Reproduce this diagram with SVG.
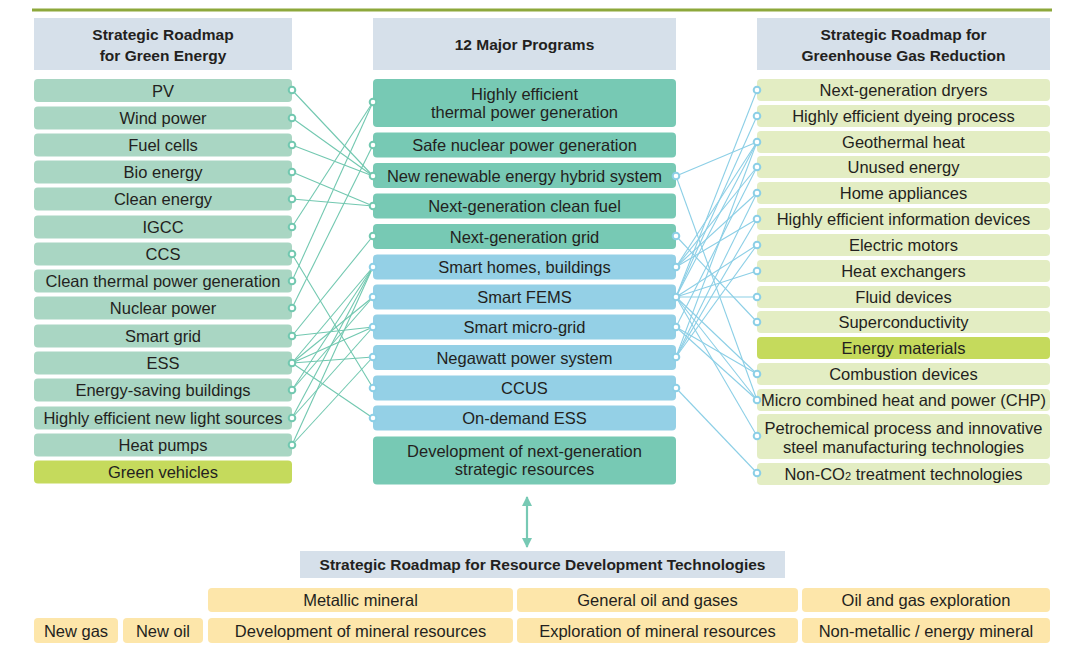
<svg xmlns="http://www.w3.org/2000/svg" width="1068" height="645" viewBox="0 0 1068 645">
<defs>
<style>
.hdr{fill:#d6e0ea}
.l{fill:#a9d6c3}
.t{fill:#77c9b4}
.b{fill:#94d0e6}
.r{fill:#e3edc3}
.y{fill:#c5da5c}
.o{fill:#fde6aa}
text{font-family:"Liberation Sans",Arial,sans-serif;font-size:16.5px;fill:#231f20;text-anchor:middle}
text.h{font-weight:bold;font-size:15.5px}
.cg line{stroke:#72c8b0;stroke-width:1.1}
.cb line{stroke:#8ccfe6;stroke-width:1.1}
.pg{fill:#fff;stroke:#72c8b0;stroke-width:2}
.pb{fill:#fff;stroke:#8ccfe6;stroke-width:2}
</style>
<marker id="ah" viewBox="0 0 10 10" refX="9" refY="5" markerWidth="4.6" markerHeight="4.6" orient="auto-start-reverse" markerUnits="strokeWidth">
<path d="M0,0 L10,5 L0,10 z" fill="#77c9b4"/>
</marker>
</defs>
<rect width="1068" height="645" fill="#fff"/>
<line x1="32" y1="10" x2="1052" y2="10" stroke="#8da83b" stroke-width="3"/>

<g id="hdr-left"><rect class="hdr" x="34" y="18" width="258" height="52"/><text class="h" x="163" y="40">Strategic Roadmap</text><text class="h" x="163" y="61">for Green Energy</text></g>
<g id="hdr-mid"><rect class="hdr" x="373" y="18" width="303" height="52"/><text class="h" x="524.5" y="50">12 Major Programs</text></g>
<g id="hdr-right"><rect class="hdr" x="757" y="18" width="293" height="52"/><text class="h" x="903.5" y="40">Strategic Roadmap for</text><text class="h" x="903.5" y="61">Greenhouse Gas Reduction</text></g>

<g id="left-pv"><rect class="l" x="34" y="79" width="258" height="23" rx="4"/><text x="163" y="96.5">PV</text></g>
<g id="left-wind"><rect class="l" x="34" y="106.5" width="258" height="23" rx="4"/><text x="163" y="124">Wind power</text></g>
<g id="left-fuel"><rect class="l" x="34" y="133.5" width="258" height="23" rx="4"/><text x="163" y="151">Fuel cells</text></g>
<g id="left-bio"><rect class="l" x="34" y="160.5" width="258" height="23" rx="4"/><text x="163" y="178">Bio energy</text></g>
<g id="left-clean"><rect class="l" x="34" y="187.5" width="258" height="23" rx="4"/><text x="163" y="205">Clean energy</text></g>
<g id="left-igcc"><rect class="l" x="34" y="215.5" width="258" height="23" rx="4"/><text x="163" y="233">IGCC</text></g>
<g id="left-ccs"><rect class="l" x="34" y="242.5" width="258" height="23" rx="4"/><text x="163" y="260">CCS</text></g>
<g id="left-cleanthermal"><rect class="l" x="34" y="269.5" width="258" height="23" rx="4"/><text x="163" y="287">Clean thermal power generation</text></g>
<g id="left-nuclear"><rect class="l" x="34" y="296.5" width="258" height="23" rx="4"/><text x="163" y="314">Nuclear power</text></g>
<g id="left-smartgrid"><rect class="l" x="34" y="324.5" width="258" height="23" rx="4"/><text x="163" y="342">Smart grid</text></g>
<g id="left-ess"><rect class="l" x="34" y="351.5" width="258" height="23" rx="4"/><text x="163" y="369">ESS</text></g>
<g id="left-esb"><rect class="l" x="34" y="378.5" width="258" height="23" rx="4"/><text x="163" y="396">Energy-saving buildings</text></g>
<g id="left-light"><rect class="l" x="34" y="406.5" width="258" height="23" rx="4"/><text x="163" y="424">Highly efficient new light sources</text></g>
<g id="left-heat"><rect class="l" x="34" y="433.5" width="258" height="23" rx="4"/><text x="163" y="451">Heat pumps</text></g>
<g id="left-vehicles"><rect class="y" x="34" y="460.5" width="258" height="23" rx="4"/><text x="163" y="478">Green vehicles</text></g>

<g id="mid-thermal"><rect class="t" x="373" y="79" width="303" height="48" rx="4"/><text x="524.5" y="99.5">Highly efficient</text><text x="524.5" y="118">thermal power generation</text></g>
<g id="mid-nuclear"><rect class="t" x="373" y="132.5" width="303" height="25" rx="4"/><text x="524.5" y="151">Safe nuclear power generation</text></g>
<g id="mid-hybrid"><rect class="t" x="373" y="163" width="303" height="25" rx="4"/><text x="524.5" y="181.5">New renewable energy hybrid system</text></g>
<g id="mid-fuel"><rect class="t" x="373" y="193.5" width="303" height="25" rx="4"/><text x="524.5" y="212">Next-generation clean fuel</text></g>
<g id="mid-grid"><rect class="t" x="373" y="224" width="303" height="25" rx="4"/><text x="524.5" y="242.5">Next-generation grid</text></g>
<g id="mid-homes"><rect class="b" x="373" y="254.5" width="303" height="25" rx="4"/><text x="524.5" y="273">Smart homes, buildings</text></g>
<g id="mid-fems"><rect class="b" x="373" y="284.5" width="303" height="25" rx="4"/><text x="524.5" y="303">Smart FEMS</text></g>
<g id="mid-micro"><rect class="b" x="373" y="314.5" width="303" height="25" rx="4"/><text x="524.5" y="333">Smart micro-grid</text></g>
<g id="mid-negawatt"><rect class="b" x="373" y="345" width="303" height="25" rx="4"/><text x="524.5" y="363.5">Negawatt power system</text></g>
<g id="mid-ccus"><rect class="b" x="373" y="375.5" width="303" height="25" rx="4"/><text x="524.5" y="394">CCUS</text></g>
<g id="mid-ess"><rect class="b" x="373" y="405.5" width="303" height="25" rx="4"/><text x="524.5" y="424">On-demand ESS</text></g>
<g id="mid-resources"><rect class="t" x="373" y="436.5" width="303" height="48" rx="4"/><text x="524.5" y="456.5">Development of next-generation</text><text x="524.5" y="475">strategic resources</text></g>

<g id="right-dryers"><rect class="r" x="757" y="79" width="293" height="22" rx="4"/><text x="903.5" y="96">Next-generation dryers</text></g>
<g id="right-dyeing"><rect class="r" x="757" y="105" width="293" height="22" rx="4"/><text x="903.5" y="122">Highly efficient dyeing process</text></g>
<g id="right-geo"><rect class="r" x="757" y="131" width="293" height="22" rx="4"/><text x="903.5" y="148">Geothermal heat</text></g>
<g id="right-unused"><rect class="r" x="757" y="156" width="293" height="22" rx="4"/><text x="903.5" y="173">Unused energy</text></g>
<g id="right-appl"><rect class="r" x="757" y="182" width="293" height="22" rx="4"/><text x="903.5" y="199">Home appliances</text></g>
<g id="right-info"><rect class="r" x="757" y="208" width="293" height="22" rx="4"/><text x="903.5" y="225">Highly efficient information devices</text></g>
<g id="right-motors"><rect class="r" x="757" y="234" width="293" height="22" rx="4"/><text x="903.5" y="251">Electric motors</text></g>
<g id="right-hex"><rect class="r" x="757" y="260" width="293" height="22" rx="4"/><text x="903.5" y="277">Heat exchangers</text></g>
<g id="right-fluid"><rect class="r" x="757" y="286" width="293" height="22" rx="4"/><text x="903.5" y="303">Fluid devices</text></g>
<g id="right-super"><rect class="r" x="757" y="311" width="293" height="22" rx="4"/><text x="903.5" y="328">Superconductivity</text></g>
<g id="right-materials"><rect class="y" x="757" y="337" width="293" height="22" rx="4"/><text x="903.5" y="354">Energy materials</text></g>
<g id="right-combustion"><rect class="r" x="757" y="363" width="293" height="22" rx="4"/><text x="903.5" y="380">Combustion devices</text></g>
<g id="right-chp"><rect class="r" x="757" y="389" width="293" height="22" rx="4"/><text x="903.5" y="406">Micro combined heat and power (CHP)</text></g>
<g id="right-petro"><rect class="r" x="757" y="414" width="293" height="45" rx="4"/><text x="903.5" y="433.5">Petrochemical process and innovative</text><text x="903.5" y="452.5">steel manufacturing technologies</text></g>
<g id="right-nonco2"><rect class="r" x="757" y="463" width="293" height="22" rx="4"/><text x="903.5" y="480">Non-CO<tspan font-size="11">2</tspan> treatment technologies</text></g>

<g id="connectors">
<g class="cg">
<line x1="292" y1="90" x2="373" y2="176"/>
<line x1="292" y1="118" x2="373" y2="176"/>
<line x1="292" y1="145" x2="373" y2="176"/>
<line x1="292" y1="172" x2="373" y2="206"/>
<line x1="292" y1="199" x2="373" y2="206"/>
<line x1="292" y1="227" x2="373" y2="102"/>
<line x1="292" y1="254" x2="373" y2="388"/>
<line x1="292" y1="281" x2="373" y2="102"/>
<line x1="292" y1="308" x2="373" y2="145"/>
<line x1="292" y1="336" x2="373" y2="236"/>
<line x1="292" y1="336" x2="373" y2="327"/>
<line x1="292" y1="363" x2="373" y2="267"/>
<line x1="292" y1="363" x2="373" y2="297"/>
<line x1="292" y1="363" x2="373" y2="327"/>
<line x1="292" y1="363" x2="373" y2="357"/>
<line x1="292" y1="363" x2="373" y2="418"/>
<line x1="292" y1="390" x2="373" y2="267"/>
<line x1="292" y1="390" x2="373" y2="297"/>
<line x1="292" y1="418" x2="373" y2="267"/>
<line x1="292" y1="418" x2="373" y2="327"/>
<line x1="292" y1="445" x2="373" y2="267"/>
<line x1="292" y1="445" x2="373" y2="357"/>
</g>
<g class="cb">
<line x1="676" y1="176" x2="757" y2="142"/>
<line x1="676" y1="176" x2="757" y2="400"/>
<line x1="676" y1="236" x2="757" y2="322"/>
<line x1="676" y1="267" x2="757" y2="142"/>
<line x1="676" y1="267" x2="757" y2="167"/>
<line x1="676" y1="267" x2="757" y2="193"/>
<line x1="676" y1="267" x2="757" y2="219"/>
<line x1="676" y1="297" x2="757" y2="90"/>
<line x1="676" y1="297" x2="757" y2="116"/>
<line x1="676" y1="297" x2="757" y2="142"/>
<line x1="676" y1="297" x2="757" y2="245"/>
<line x1="676" y1="297" x2="757" y2="271"/>
<line x1="676" y1="297" x2="757" y2="297"/>
<line x1="676" y1="297" x2="757" y2="374"/>
<line x1="676" y1="297" x2="757" y2="400"/>
<line x1="676" y1="297" x2="757" y2="436"/>
<line x1="676" y1="327" x2="757" y2="167"/>
<line x1="676" y1="327" x2="757" y2="374"/>
<line x1="676" y1="327" x2="757" y2="400"/>
<line x1="676" y1="357" x2="757" y2="142"/>
<line x1="676" y1="357" x2="757" y2="193"/>
<line x1="676" y1="357" x2="757" y2="219"/>
<line x1="676" y1="357" x2="757" y2="245"/>
<line x1="676" y1="388" x2="757" y2="473"/>
</g>
<g>
<circle class="pg" cx="292" cy="90" r="3.3"/><circle class="pg" cx="292" cy="118" r="3.3"/><circle class="pg" cx="292" cy="145" r="3.3"/><circle class="pg" cx="292" cy="172" r="3.3"/><circle class="pg" cx="292" cy="199" r="3.3"/><circle class="pg" cx="292" cy="227" r="3.3"/><circle class="pg" cx="292" cy="254" r="3.3"/><circle class="pg" cx="292" cy="281" r="3.3"/><circle class="pg" cx="292" cy="308" r="3.3"/><circle class="pg" cx="292" cy="336" r="3.3"/><circle class="pg" cx="292" cy="363" r="3.3"/><circle class="pg" cx="292" cy="390" r="3.3"/><circle class="pg" cx="292" cy="418" r="3.3"/><circle class="pg" cx="292" cy="445" r="3.3"/>
<circle class="pg" cx="373" cy="102" r="3.3"/><circle class="pg" cx="373" cy="145" r="3.3"/><circle class="pg" cx="373" cy="176" r="3.3"/><circle class="pg" cx="373" cy="206" r="3.3"/><circle class="pg" cx="373" cy="236" r="3.3"/>
<circle class="pb" cx="373" cy="267" r="3.3"/><circle class="pb" cx="373" cy="297" r="3.3"/><circle class="pb" cx="373" cy="327" r="3.3"/><circle class="pb" cx="373" cy="357" r="3.3"/><circle class="pb" cx="373" cy="388" r="3.3"/><circle class="pb" cx="373" cy="418" r="3.3"/>
<circle class="pb" cx="676" cy="176" r="3.3"/><circle class="pb" cx="676" cy="236" r="3.3"/><circle class="pb" cx="676" cy="267" r="3.3"/><circle class="pb" cx="676" cy="297" r="3.3"/><circle class="pb" cx="676" cy="327" r="3.3"/><circle class="pb" cx="676" cy="357" r="3.3"/><circle class="pb" cx="676" cy="388" r="3.3"/>
<circle class="pb" cx="757" cy="90" r="3.3"/><circle class="pb" cx="757" cy="116" r="3.3"/><circle class="pb" cx="757" cy="142" r="3.3"/><circle class="pb" cx="757" cy="167" r="3.3"/><circle class="pb" cx="757" cy="193" r="3.3"/><circle class="pb" cx="757" cy="219" r="3.3"/><circle class="pb" cx="757" cy="245" r="3.3"/><circle class="pb" cx="757" cy="271" r="3.3"/><circle class="pb" cx="757" cy="297" r="3.3"/><circle class="pb" cx="757" cy="322" r="3.3"/><circle class="pb" cx="757" cy="374" r="3.3"/><circle class="pb" cx="757" cy="400" r="3.3"/><circle class="pb" cx="757" cy="436" r="3.3"/><circle class="pb" cx="757" cy="473" r="3.3"/>
</g>
<line x1="527" y1="497" x2="527" y2="547" stroke="#77c9b4" stroke-width="2.2" marker-start="url(#ah)" marker-end="url(#ah)"/>
</g>

<g id="hdr-bottom"><rect class="hdr" x="300" y="551" width="485" height="27"/><text class="h" x="542.5" y="570">Strategic Roadmap for Resource Development Technologies</text></g>
<g id="bot-metallic"><rect class="o" x="208" y="588" width="305" height="24" rx="4"/><text x="360.5" y="605.5">Metallic mineral</text></g>
<g id="bot-general"><rect class="o" x="517" y="588" width="281" height="24" rx="4"/><text x="657.5" y="605.5">General oil and gases</text></g>
<g id="bot-explore-oil"><rect class="o" x="802" y="588" width="248" height="24" rx="4"/><text x="926" y="605.5">Oil and gas exploration</text></g>
<g id="bot-newgas"><rect class="o" x="34" y="618" width="84" height="25" rx="4"/><text x="76" y="636.5">New gas</text></g>
<g id="bot-newoil"><rect class="o" x="123" y="618" width="80" height="25" rx="4"/><text x="163" y="636.5">New oil</text></g>
<g id="bot-devmin"><rect class="o" x="208" y="618" width="305" height="25" rx="4"/><text x="360.5" y="636.5">Development of mineral resources</text></g>
<g id="bot-expmin"><rect class="o" x="517" y="618" width="281" height="25" rx="4"/><text x="657.5" y="636.5">Exploration of mineral resources</text></g>
<g id="bot-nonmet"><rect class="o" x="802" y="618" width="248" height="25" rx="4"/><text x="926" y="636.5">Non-metallic / energy mineral</text></g>
</svg>
